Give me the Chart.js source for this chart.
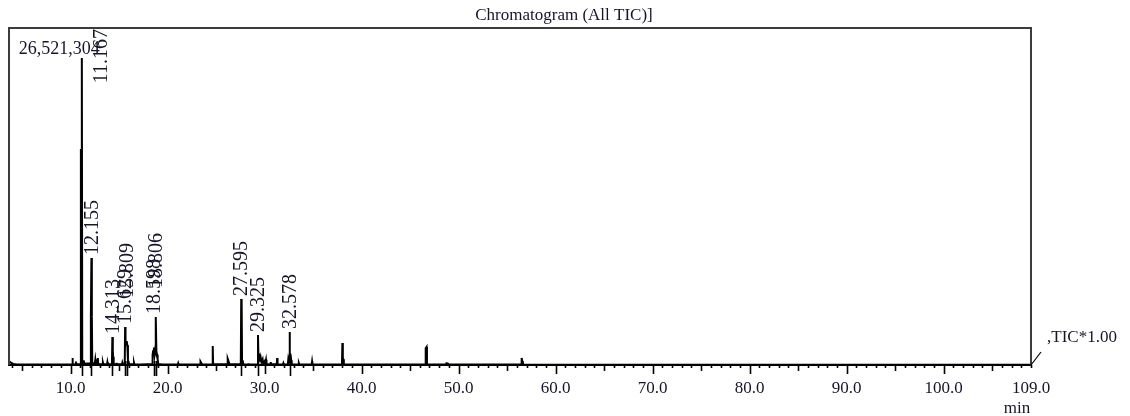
<!DOCTYPE html>
<html>
<head>
<meta charset="utf-8">
<script src="https://cdn.jsdelivr.net/npm/chart.js@4.4.1/dist/chart.umd.min.js"></script>
<style>
  html, body { margin: 0; padding: 0; background: #fff; }
  #wrap { width: 1130px; height: 416px; position: relative; }
</style>
</head>
<body>
<div id="wrap"><canvas id="chrom"></canvas></div>
<script>
// retention time (min) and TIC intensity
const rtMin = [
  3.66, 3.72, 3.85, 4.1, 4.5, 6.0, 8.0, 9.3,
  10.16, 10.2, 10.24, 10.52, 10.56, 10.6,
  11.03, 11.07, 11.13, 11.167, 11.21, 11.3, 11.36, 11.42,
  12.06, 12.1, 12.155, 12.2, 12.24, 12.5, 12.56, 12.62, 12.78, 12.82, 12.86,
  13.3, 13.34, 13.38, 13.76, 13.8, 13.84,
  14.27, 14.313, 14.36, 14.4, 14.45, 14.7, 14.74, 14.78,
  15.3, 15.34, 15.38, 15.59, 15.629, 15.67, 15.72, 15.77, 15.809, 15.86, 15.92, 15.98, 16.04,
  16.5, 16.54, 16.58, 17.3,
  18.42, 18.46, 18.52, 18.598, 18.66, 18.72, 18.77, 18.806, 18.85, 18.92, 18.98, 19.04, 19.5,
  21.06, 21.1, 21.14, 23.35, 23.4, 23.5, 23.58, 24.62, 24.66, 24.7,
  26.16, 26.2, 26.3, 26.38,
  27.55, 27.595, 27.64, 27.68, 27.75, 27.8, 28.3, 28.34, 28.38,
  29.28, 29.325, 29.37, 29.45, 29.52, 29.6, 29.68, 29.8, 29.86, 30.0, 30.06, 30.15, 30.2,
  30.6, 30.64, 30.68, 31.26, 31.3, 31.34, 31.9, 31.94, 31.98,
  32.4, 32.45, 32.53, 32.578, 32.62, 32.68, 32.75, 32.8,
  33.5, 33.54, 33.58, 34.86, 34.9, 34.94,
  37.98, 38.02, 38.07, 38.12, 38.17, 40.0,
  46.55, 46.58, 46.64, 46.7, 46.74,
  48.7, 48.75, 48.9, 48.95,
  56.44, 56.5, 56.56, 56.62, 56.66,
  70.0, 109.0
];
const ticCounts = [
  250000, 300000, 200000, 90000, 50000, 40000, 40000, 50000,
  50000, 600000, 50000, 50000, 300000, 60000,
  80000, 18660000, 18300000, 26521304, 300000, 150000, 400000, 100000,
  150000, 4400000, 9240000, 4200000, 200000, 100000, 500000, 100000, 100000, 600000, 80000,
  60000, 200000, 60000, 60000, 250000, 60000,
  80000, 2420000, 500000, 700000, 80000, 60000, 200000, 60000,
  60000, 200000, 60000, 100000, 3280000, 1800000, 2000000, 1900000, 2070000, 1700000, 400000, 300000, 80000,
  60000, 200000, 60000, 50000,
  80000, 900000, 1200000, 1520000, 900000, 1300000, 1100000, 4150000, 1200000, 900000, 500000, 80000, 50000,
  50000, 160000, 50000, 50000, 300000, 150000, 50000, 50000, 1640000, 60000,
  60000, 550000, 300000, 60000,
  60000, 5700000, 5400000, 300000, 400000, 60000, 50000, 150000, 50000,
  60000, 2600000, 700000, 800000, 300000, 650000, 250000, 500000, 100000, 300000, 80000, 450000, 60000,
  60000, 250000, 60000, 60000, 600000, 60000, 50000, 150000, 50000,
  60000, 500000, 200000, 2850000, 1000000, 900000, 400000, 60000,
  50000, 150000, 50000, 50000, 300000, 50000,
  50000, 1900000, 600000, 500000, 50000, 40000,
  40000, 1500000, 1450000, 1560000, 40000,
  40000, 150000, 120000, 40000,
  40000, 600000, 350000, 250000, 40000,
  30000, 30000
];

// labelled peaks
const peakRT = [11.167, 12.155, 14.313, 15.629, 15.809, 18.598, 18.806, 27.595, 29.325, 32.578];
const peakNames = ['11.167', '12.155', '14.313', '15.629', '15.809', '18.598', '18.806', '27.595', '29.325', '32.578'];
const maxIntensityText = '26,521,304';

const xTickValues = [10, 20, 30, 40, 50, 60, 70, 80, 90, 100, 109];
const xRange = [3.66, 109];
const yTop = 29110000;

const serif = '"Liberation Serif", "Times New Roman", serif';
const ink = '#15152e';

const points = rtMin.map((t, i) => ({ x: t, y: ticCounts[i] }));

const decor = {
  id: 'decor',
  afterDraw(chart) {
    const { ctx, chartArea: a, scales: { x, y } } = chart;
    ctx.save();

    // frame
    ctx.strokeStyle = '#3c3c3c';
    ctx.lineWidth = 2;
    ctx.beginPath();
    ctx.moveTo(a.left, a.bottom);
    ctx.lineTo(a.left, a.top);
    ctx.lineTo(a.right, a.top);
    ctx.lineTo(a.right, a.bottom);
    ctx.stroke();

    // tick marks every minute, longer at 5 and 10
    ctx.strokeStyle = '#000';
    ctx.lineWidth = 1.6;
    ctx.beginPath();
    for (let m = Math.ceil(x.min); m <= x.max; m++) {
      const len = m % 10 === 0 ? 9 : (m % 5 === 0 ? 6 : 3);
      const px = Math.round(x.getPixelForValue(m)) + 0.5;
      ctx.moveTo(px, a.bottom);
      ctx.lineTo(px, a.bottom + len);
    }
    // peak marks
    peakRT.forEach(t => {
      const px = Math.round(x.getPixelForValue(t)) + 0.5;
      ctx.moveTo(px, a.bottom - 4);
      ctx.lineTo(px, a.bottom + 11);
    });
    ctx.stroke();

    // TIC trace tag
    ctx.lineWidth = 1.2;
    ctx.beginPath();
    ctx.moveTo(a.right, a.bottom);
    ctx.lineTo(a.right + 10, a.bottom - 13);
    ctx.stroke();

    ctx.fillStyle = ink;
    ctx.font = '17px ' + serif;
    ctx.textAlign = 'left';
    ctx.textBaseline = 'alphabetic';
    ctx.fillText(',TIC*1.00', a.right + 16, a.bottom - 23);

    ctx.textAlign = 'center';
    ctx.fillText('Chromatogram (All TIC)]', 564, 20);
    ctx.fillText('min', a.right - 14, 413);

    // peak labels
    const top = Math.max(...ticCounts);
    let lastX = -100, lastBottom = 0;
    ctx.font = '20px ' + serif;
    peakRT.forEach((t, i) => {
      const px = x.getPixelForValue(t);
      let hmax = 0;
      rtMin.forEach((rt, j) => { if (Math.abs(rt - t) <= 0.25) hmax = Math.max(hmax, ticCounts[j]); });
      ctx.save();
      if (hmax === top) {
        const py = y.getPixelForValue(hmax);
        ctx.font = '18px ' + serif;
        ctx.textAlign = 'right';
        ctx.textBaseline = 'alphabetic';
        ctx.fillText(maxIntensityText, px + 18, py - 4);
        ctx.translate(px + 20, a.top + 1);
        ctx.rotate(-Math.PI / 2);
        ctx.font = '20px ' + serif;
        ctx.textAlign = 'right';
        ctx.textBaseline = 'middle';
        ctx.fillText(peakNames[i], 0, 0);
      } else {
        let bottom = y.getPixelForValue(hmax) - 3;
        if (px - lastX < 10 && Math.abs(bottom - lastBottom) < 30) bottom = lastBottom - 26;
        ctx.translate(px + 1, bottom);
        ctx.rotate(-Math.PI / 2);
        ctx.textAlign = 'left';
        ctx.textBaseline = 'middle';
        ctx.fillText(peakNames[i], 0, 0);
        lastX = px;
        lastBottom = bottom;
      }
      ctx.restore();
    });

    ctx.restore();
  }
};

new Chart(document.getElementById('chrom'), {
  type: 'line',
  data: {
    datasets: [{
      data: points,
      borderColor: '#000',
      borderWidth: 2,
      pointRadius: 0,
      tension: 0,
      fill: false
    }]
  },
  options: {
    responsive: true,
    maintainAspectRatio: false,
    animation: false,
    layout: { padding: { left: 9, top: 28, right: 99, bottom: 0 } },
    plugins: { legend: { display: false }, tooltip: { enabled: false } },
    scales: {
      x: {
        type: 'linear',
        min: xRange[0],
        max: xRange[1],
        grid: { display: false, drawTicks: false },
        border: { display: true, color: '#000', width: 2 },
        afterBuildTicks: scale => { scale.ticks = xTickValues.map(v => ({ value: v })); },
        afterFit: scale => { scale.height = 51; },
        ticks: {
          autoSkip: false,
          maxRotation: 0,
          padding: 13,
          color: ink,
          font: { family: serif, size: 17 },
          callback: v => Number(v).toFixed(1)
        }
      },
      y: {
        display: false,
        min: 0,
        max: yTop
      }
    }
  },
  plugins: [decor]
});
</script>
</body>
</html>
